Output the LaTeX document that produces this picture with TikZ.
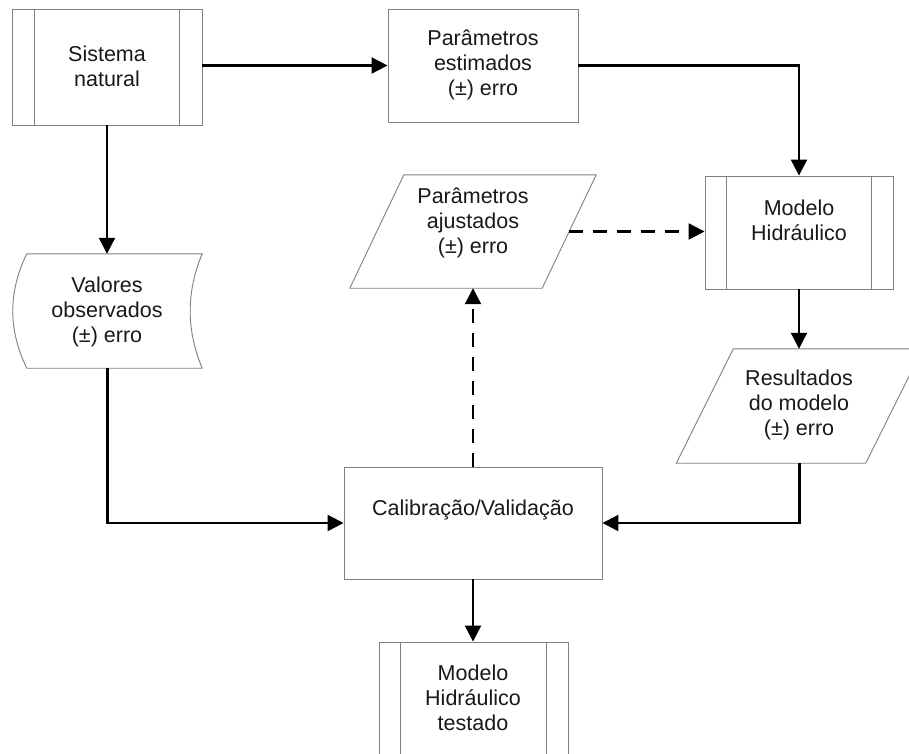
\documentclass[tikz,border=0pt]{standalone}
\usepackage{fontspec}
\setmainfont{Liberation Sans}
\usetikzlibrary{arrows.meta,calc}

\tikzset{
  outline/.style={draw=black!50, line width=0.9pt},
  shapebox/.style={rectangle, inner sep=0pt, outline},
  ghost/.style={rectangle, inner sep=0pt, draw=none},
  txt/.style={align=center, inner sep=0pt, text=black!90,
              font=\fontsize{21.5}{25}\selectfont},
  conn/.style={draw=black, line width=2.2pt,
               -{Triangle[length=16pt,width=16pt]}},
  dconn/.style={conn, dash pattern=on 14pt off 10pt},
  % predefined-process box: side bars drawn inside the frame
  bars/.style={append after command={
      \pgfextra{\let\tn\tikzlastnode
        \draw[outline] ([xshift=#1]\tn.north west) -- ([xshift=#1]\tn.south west);
        \draw[outline] ([xshift=-#1]\tn.north east) -- ([xshift=-#1]\tn.south east);}}},
}

\begin{document}
\begin{tikzpicture}[x=1pt,y=-1pt]
\useasboundingbox (0,0) rectangle (909,753);
\clip (0,0) rectangle (909,753);
\fill[white] (0,0) rectangle (909,753);

% ---- shapes ----
\node[shapebox, bars=23pt, minimum width=190pt, minimum height=116pt] (sis) at (107,67) {};
\node[shapebox, minimum width=190pt, minimum height=113pt] (est) at (483,65.5) {};
\node[shapebox, bars=22pt, minimum width=188pt, minimum height=113pt] (mod) at (799,232.5) {};
\node[shapebox, minimum width=258pt, minimum height=112pt] (cal) at (473,523) {};
\node[shapebox, bars=22pt, minimum width=189pt, minimum height=113pt] (tst) at (473.5,698.5) {};

% stored-data shape
\node[ghost, minimum width=189pt, minimum height=114pt] (val) at (107.5,311) {};
\draw[outline] ([xshift=14pt]val.north west) -- (val.north east)
  .. controls ([xshift=-16pt,yshift=-38pt]val.north east) and ([xshift=-16pt,yshift=38pt]val.south east) .. (val.south east)
  -- ([xshift=14pt]val.south west)
  .. controls ([xshift=-4.7pt,yshift=38pt]val.south west) and ([xshift=-4.7pt,yshift=-38pt]val.north west) .. ([xshift=14pt]val.north west) -- cycle;

% data (parallelogram) shapes
\node[ghost, minimum width=246pt, minimum height=113pt] (aj) at (473,231.5) {};
\draw[outline] (aj.south west) -- ([xshift=54pt]aj.north west) -- (aj.north east)
  -- ([xshift=-54pt]aj.south east) -- cycle;
\coordinate (ajr) at ([xshift=-27pt]aj.east);

\node[ghost, minimum width=246pt, minimum height=114pt] (res) at (799.5,406) {};
\draw[outline] (res.south west) -- ([xshift=57pt]res.north west) -- (res.north east)
  -- ([xshift=-57pt]res.south east) -- cycle;

% ---- texts ----
\node[txt] (sist) at (107,66) {Sistema\\natural};
\node[txt] (estt) at (483,65) {Parâmetros\\estimados\\(±) erro};
\node[txt] (modt) at (799,220) {Modelo\\Hidráulico};
\node[txt] (valt) at (107,312) {Valores\\observados\\(±) erro};
\node[txt] (ajt) at (473,223) {Parâmetros\\ajustados\\(±) erro};
\node[txt] (rest) at (799,405) {Resultados\\do modelo\\(±) erro};
\node[txt] (calt) at (473,510) {Calibração/Validação};
\node[txt] (tstt) at (473,698) {Modelo\\Hidráulico\\testado};

% ---- connectors ----
\draw[conn] (sis.east |- est) -- (est.west);
\draw[conn] (est.east) -| (mod.north);
\draw[conn] (sis.south) -- (sis.south |- val.north);
\draw[conn] (val.south) |- (cal.west);
\draw[conn] (mod.south) -- (mod.south |- res.north);
\draw[conn] (res.south) |- (cal.east);
\draw[conn] (cal.south) -- (cal.south |- tst.north);
\draw[dconn] (cal.north) -- (cal.north |- aj.south);
\draw[dconn] (ajr) -- (ajr -| mod.west);
\end{tikzpicture}
\end{document}
